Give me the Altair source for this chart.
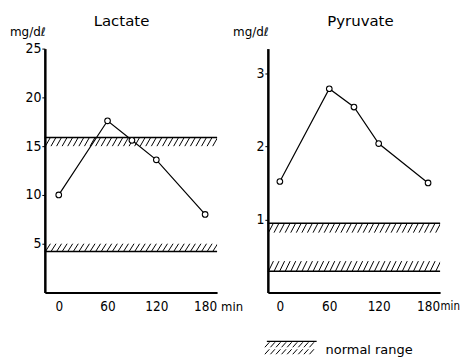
import altair as alt
import pandas as pd
import numpy as np

time_min = [0, 60, 90, 120, 180]
lactate = [10.0, 17.6, 15.6, 13.6, 8.0]
pyruvate = [1.52, 2.79, 2.54, 2.04, 1.50]

# normal range bands: (low, high, edge with solid line)
lactate_bands = [(15.0, 15.9, "top"), (4.2, 5.0, "bottom")]
pyruvate_bands = [(0.82, 0.95, "top"), (0.29, 0.43, "bottom")]

lac_ticks = [5, 10, 15, 20, 25]
pyr_ticks = [1, 2, 3]
x_ticks = [0, 60, 120, 180]

W, H = 173, 245
TICK_FONT = "DejaVu Sans Condensed"
TEXT_FONT = "DejaVu Sans"


def hatch_df(bands, xa, xb, step, dx):
    rows = []
    for lo, hi, _ in bands:
        x = xa - dx
        while x < xb + dx:
            rows.append({"x": x, "x2": x + dx, "y": lo, "y2": hi})
            x += step
    return pd.DataFrame(rows)


def edge_df(bands):
    return pd.DataFrame({"y": [hi if e == "top" else lo for lo, hi, e in bands]})


def label(text, x, y, size=13, font=TEXT_FONT, align="left"):
    return alt.Chart(pd.DataFrame({"t": [text]})).mark_text(
        font=font, fontSize=size, align=align, baseline="middle", color="black", clip=False
    ).encode(text="t:N", x=alt.value(x), y=alt.value(y))


def panel(values, bands, ydom, yticks, xdom, title, title_x, min_x, min_size, legend=False):
    xs = alt.Scale(domain=xdom, nice=False, zero=False)
    ys = alt.Scale(domain=ydom, nice=False, zero=False)
    df = pd.DataFrame({"t": time_min, "v": values})
    xaxis = alt.Axis(values=x_ticks, title=None, grid=False, ticks=False, labelPadding=7,
                     labelFont=TICK_FONT, labelFontSize=13.5, labelColor="black",
                     domainColor="black", domainWidth=2)
    yaxis = alt.Axis(values=yticks, format="d", title=None, grid=False, tickSize=3, tickColor="black",
                     labelPadding=1, labelFont=TICK_FONT, labelFontSize=14, labelColor="black",
                     domainColor="black", domainWidth=2.5)
    line = alt.Chart(df).mark_line(color="black", strokeWidth=1.2).encode(
        x=alt.X("t:Q", scale=xs, axis=xaxis), y=alt.Y("v:Q", scale=ys, axis=yaxis))
    pts = alt.Chart(df).mark_point(shape="circle", size=32, filled=True, fill="white",
                                   stroke="black", strokeWidth=1.1, opacity=1).encode(
        x=alt.X("t:Q", scale=xs), y=alt.Y("v:Q", scale=ys))
    per_px = (xdom[1] - xdom[0]) / W
    hatch = alt.Chart(hatch_df(bands, xdom[0], xdom[1], 5.6 * per_px, 5.0 * per_px)).mark_rule(
        color="black", strokeWidth=1, clip=True).encode(
        x=alt.X("x:Q", scale=xs), x2="x2", y=alt.Y("y:Q", scale=ys), y2="y2")
    edges = alt.Chart(edge_df(bands)).mark_rule(color="black", strokeWidth=1.5).encode(
        y=alt.Y("y:Q", scale=ys))
    layers = [hatch, edges, line, pts,
              label(title, title_x, -28, size=15, align="center"),
              label("mg/d\u2113", -35, -17, size=12),
              label("min", min_x, 260, size=min_size, font=TICK_FONT)]
    if legend:
        rows = []
        for y0, y1 in [(295, 300), (302, 307)]:
            x = -3
            while x < 47:
                rows.append({"x": x, "x2": x + 4.5, "y": y1, "y2": y0})
                x += 5.6
        lg = pd.DataFrame(rows)
        layers.append(alt.Chart(lg).mark_rule(color="black", strokeWidth=1, clip=False).encode(
            x=alt.X("x:Q", scale=None), x2="x2", y=alt.Y("y:Q", scale=None), y2="y2"))
        layers.append(alt.Chart(pd.DataFrame({"a": [0]})).mark_rule(color="black", strokeWidth=1.2).encode(
            x=alt.value(-1), x2=alt.value(49), y=alt.value(294)))
        layers.append(label("normal range", 58, 303, size=13))
    return alt.layer(*layers).properties(width=W, height=H)


left = panel(lactate, lactate_bands, [0, 25], lac_ticks, [-17.1, 194.7], "Lactate", 77, 177, 13)
right = panel(pyruvate, pyruvate_bands, [0, 3.34], pyr_ticks, [-14.6, 194.6], "Pyruvate", 93, 173.5, 11.5,
              legend=True)

chart = alt.hconcat(left, right, spacing=51, bounds="flush").properties(
    padding={"left": 2, "top": 5, "right": 0, "bottom": 0}
).configure(background="white").configure_view(strokeWidth=0)

chart.save("out.html", embed_options={"renderer": "svg", "actions": False})
